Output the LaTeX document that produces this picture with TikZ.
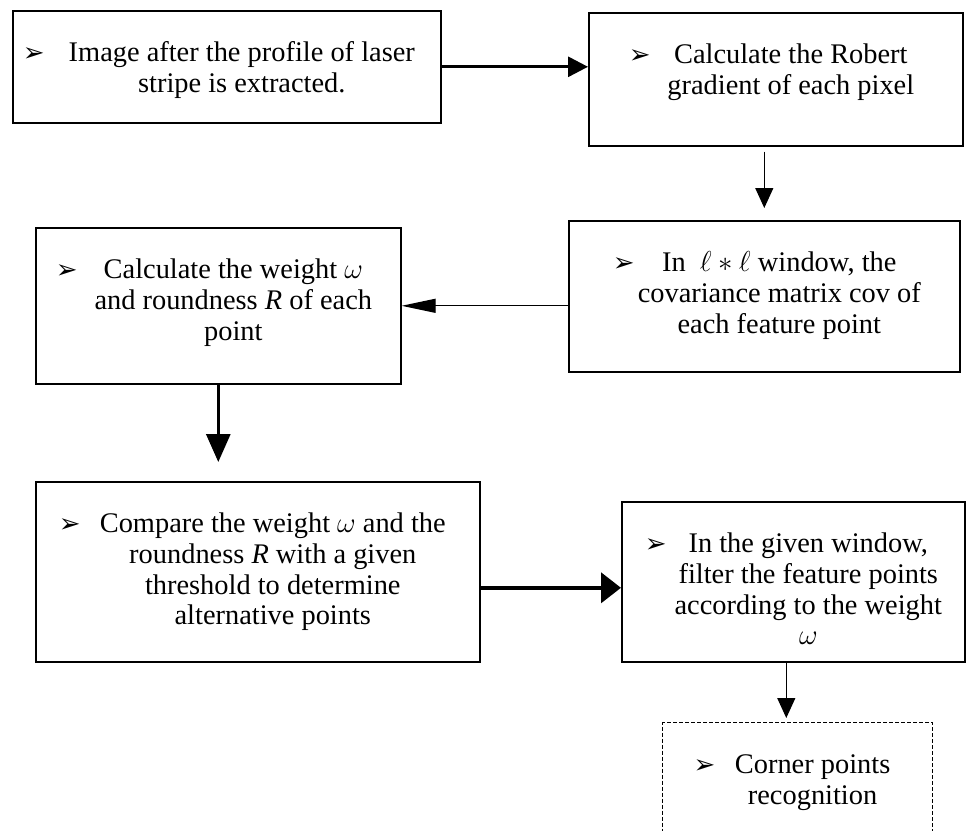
\documentclass[tikz,border=0pt]{standalone}
\usepackage{fontspec}
\setmainfont{Liberation Serif}
\newfontfamily\symfont{DejaVu Sans}
\usetikzlibrary{arrows.meta}
\newcommand{\bul}{{\symfont\fontsize{13}{13}\selectfont ➢}}
\newcommand{\steptext}[4]{\parbox[c][#2][t]{#1}{\vspace*{14.5pt}%
  \makebox[15pt][l]{\hspace*{#3}\bul}%
  \parbox[t]{\dimexpr#1-15pt\relax}{\centering\rule{0pt}{11pt}#4}}}

\begin{document}
\begin{tikzpicture}[
  x=0.5pt, y=-0.5pt,
  font=\fontsize{14.2}{15.3}\selectfont,
  box/.style={draw, line width=0.8pt, inner sep=0pt, anchor=north west},
  dbox/.style={box, line width=0.6pt, dash pattern=on 2pt off 1pt},
  arr/.style={-{Triangle[length=10pt,width=10pt]}, line width=1.5pt},
  thinarr/.style={-{Triangle[length=10pt,width=9pt]}, line width=0.6pt}
]
\useasboundingbox (0,0) rectangle (966,831);
\node[box] (b1) at (12,10) {\steptext{214pt}{56pt}{5pt}{Image after the profile of laser\\stripe is extracted.}};
\node[box] (b2) at (588,12) {\steptext{187pt}{66.5pt}{20pt}{Calculate the Robert\\gradient of each pixel}};
\node[box] (b3) at (568,220) {\steptext{195.5pt}{75.5pt}{22pt}{In\ \ $\ell\ast\ell$ window, the\\covariance matrix cov of\\each feature point}};
\node[box] (b4) at (35,227) {\steptext{182.5pt}{78pt}{10pt}{Calculate the weight $\omega$\\and roundness \textit{R} of each\\point}};
\node[box] (b5) at (35,481) {\steptext{222pt}{90pt}{11.5pt}{Compare the weight $\omega$ and the\\roundness \textit{R} with a given\\threshold to determine\\alternative points}};
\node[box] (b6) at (621,501) {\steptext{171.5pt}{80pt}{11.5pt}{In the given window,\\filter the feature points\\according to the weight\\$\omega$}};
\node[dbox] (b7) at (662,722) {\steptext{135pt}{70pt}{15.5pt}{Corner points\\recognition}};
\coordinate (a5) at ([yshift=-3pt]b6.west);
\coordinate (a6) at ([xshift=-3.5pt]b6.south);
\draw[arr] (b1.east) -- (b1.east -| b2.west);
\draw[thinarr, shorten <=2.5pt, shorten >=6pt] (b3.north |- b2.south) -- (b3.north);
\draw[thinarr, -{Triangle[length=17pt,width=7pt]}] (b4.east -| b3.west) -- (b4.east);
\draw[arr, -{Triangle[length=14pt,width=12pt]}, shorten >=9.5pt] (b4.south) -- (b4.south |- b5.north);
\draw[arr, line width=2pt, -{Triangle[length=10pt,width=15pt]}] (a5 -| b5.east) -- (a5);
\draw[thinarr, shorten >=2pt] (a6) -- (a6 |- b7.north);
\end{tikzpicture}
\end{document}
